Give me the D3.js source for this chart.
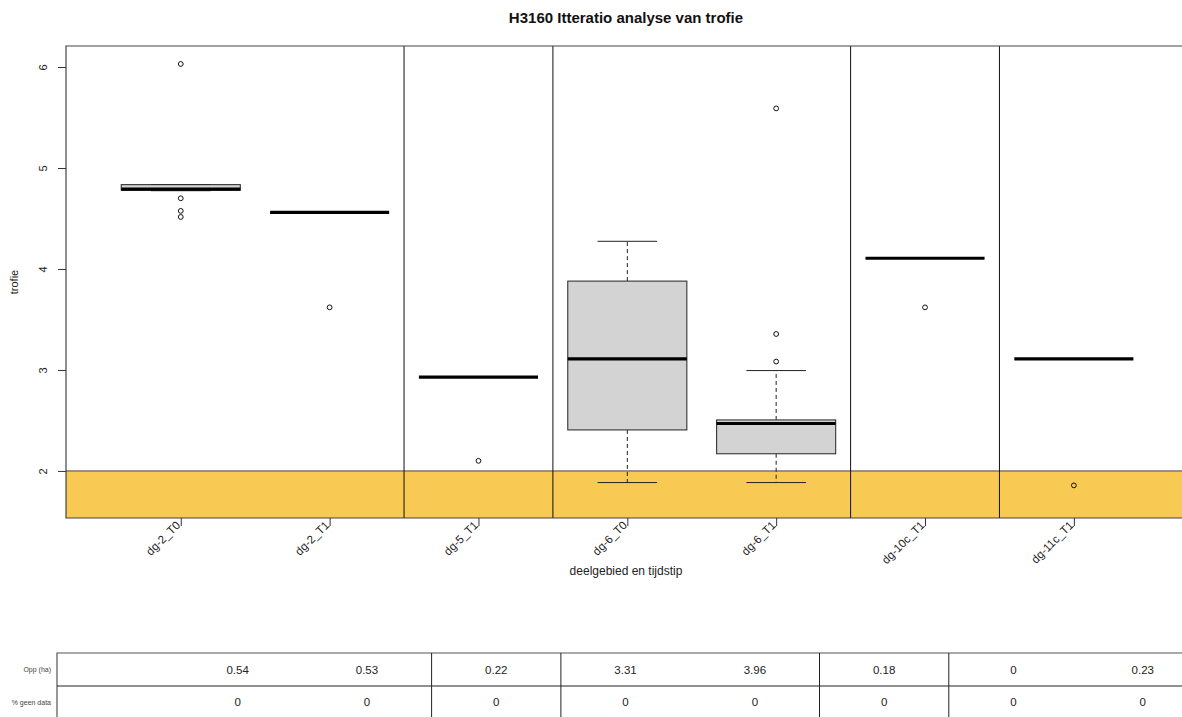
<!DOCTYPE html>
<html>
<head>
<meta charset="utf-8">
<script src="https://cdn.jsdelivr.net/npm/d3@7"></script>
<style>
  body { margin: 0; background: #fff; }
  svg { display: block; font-family: "Liberation Sans", Arial, sans-serif; }
</style>
</head>
<body>
<svg id="chart" width="1182" height="717"></svg>
<script>
// Groups (deelgebied + tijdstip) and their boxplot statistics
const categories = ["dg-2_T0", "dg-2_T1", "dg-5_T1", "dg-6_T0", "dg-6_T1", "dg-10c_T1", "dg-11c_T1"];
const whiskerLow  = [4.775, 4.56, 2.93, 1.885, 1.885, 4.106, 3.11];
const quartile1   = [4.78,  4.56, 2.93, 2.406, 2.17,  4.106, 3.11];
const medians     = [4.79,  4.56, 2.93, 3.11,  2.47,  4.106, 3.11];
const quartile3   = [4.835, 4.56, 2.93, 3.88,  2.505, 4.106, 3.11];
const whiskerHigh = [4.835, 4.56, 2.93, 4.274, 2.994, 4.106, 3.11];
const outliers    = [[6.03, 4.70, 4.575, 4.515], [3.62], [2.10], [], [3.356, 3.083, 5.59], [3.62], [1.857]];

// Boundaries between deelgebieden (after group index)
const separatorsAfter = [2, 3, 5, 6];

// Threshold band below trofie 2
const bandTop = 2;

const yTicks = [2, 3, 4, 5, 6];

// Table under the chart
const tableRowLabels = ["Opp (ha)", "% geen data"];
const tableOpp   = ["0.54", "0.53", "0.22", "3.31", "3.96", "0.18", "0", "0.23"];
const tableGeen  = ["0", "0", "0", "0", "0", "0", "0", "0"];
const tableSeparatorsAfter = [2, 3, 5, 6];

const svg = d3.select("#chart");

const plot = { left: 66, top: 46, right: 1187, bottom: 518 };
const x = d3.scaleLinear().domain([0.229, 7.76]).range([plot.left, plot.right]);
const y = d3.scaleLinear().domain([1.534, 6.208]).range([plot.bottom, plot.top]);
const boxW = (x(2) - x(1)) * 0.8;

// Title
svg.append("text")
  .attr("x", 626).attr("y", 23)
  .attr("text-anchor", "middle")
  .attr("font-weight", "bold")
  .attr("font-size", 15)
  .attr("fill", "#111")
  .text("H3160 Itteratio analyse van trofie");

// Yellow band
svg.append("rect")
  .attr("x", plot.left).attr("y", y(bandTop))
  .attr("width", plot.right - plot.left)
  .attr("height", plot.bottom - y(bandTop))
  .attr("fill", "#F8C953");
svg.append("line")
  .attr("x1", plot.left).attr("x2", plot.right)
  .attr("y1", y(bandTop)).attr("y2", y(bandTop))
  .attr("stroke", "#444").attr("stroke-width", 1);

// Group separators
svg.selectAll("line.sep").data(separatorsAfter).join("line")
  .attr("class", "sep")
  .attr("x1", d => x(d + 0.5)).attr("x2", d => x(d + 0.5))
  .attr("y1", plot.top).attr("y2", plot.bottom)
  .attr("stroke", "#111").attr("stroke-width", 1);

// Boxplots
const groups = svg.selectAll("g.box").data(categories.map((c, i) => ({
  c, i, pos: i + 1,
  lo: whiskerLow[i], q1: quartile1[i], med: medians[i], q3: quartile3[i], hi: whiskerHigh[i],
  out: outliers[i]
}))).join("g").attr("class", "box");

groups.each(function(d) {
  const g = d3.select(this);
  const cx = x(d.pos);
  const flat = d.q1 === d.q3;
  if (!flat) {
    // whiskers
    g.append("line").attr("x1", cx).attr("x2", cx).attr("y1", y(d.q3)).attr("y2", y(d.hi))
      .attr("stroke", "#222").attr("stroke-dasharray", "4,3");
    g.append("line").attr("x1", cx).attr("x2", cx).attr("y1", y(d.q1)).attr("y2", y(d.lo))
      .attr("stroke", "#222").attr("stroke-dasharray", "4,3");
    g.append("line").attr("x1", cx - boxW / 4).attr("x2", cx + boxW / 4)
      .attr("y1", y(d.hi)).attr("y2", y(d.hi)).attr("stroke", "#222");
    g.append("line").attr("x1", cx - boxW / 4).attr("x2", cx + boxW / 4)
      .attr("y1", y(d.lo)).attr("y2", y(d.lo)).attr("stroke", "#222");
    g.append("rect")
      .attr("x", cx - boxW / 2).attr("width", boxW)
      .attr("y", y(d.q3)).attr("height", y(d.q1) - y(d.q3))
      .attr("fill", "#D3D3D3").attr("stroke", "#222").attr("stroke-width", 1);
  }
  g.append("line")
    .attr("x1", cx - boxW / 2).attr("x2", cx + boxW / 2)
    .attr("y1", y(d.med)).attr("y2", y(d.med))
    .attr("stroke", "#000").attr("stroke-width", 3.2);
  g.selectAll("circle").data(d.out).join("circle")
    .attr("cx", cx).attr("cy", v => y(v)).attr("r", 2.4)
    .attr("fill", "none").attr("stroke", "#111").attr("stroke-width", 1);
});

// Plot frame (left, top, bottom)
svg.append("path")
  .attr("d", `M${plot.right},${plot.top}H${plot.left}V${plot.bottom}H${plot.right}`)
  .attr("fill", "none").attr("stroke", "#444").attr("stroke-width", 1.2);

// Y axis
const yAxis = svg.append("g")
  .attr("transform", `translate(${plot.left},0)`)
  .call(d3.axisLeft(y).tickValues(yTicks).tickSize(8).tickFormat(d3.format("d")));
yAxis.select(".domain").remove();
yAxis.selectAll(".tick line").attr("stroke", "#333");
yAxis.selectAll(".tick text")
  .attr("transform", "rotate(-90)")
  .attr("x", 0).attr("y", -19).attr("dy", 0)
  .attr("text-anchor", "middle")
  .attr("font-size", 11).attr("fill", "#222")
  .attr("font-family", "Liberation Sans, Arial, sans-serif");

svg.append("text")
  .attr("transform", `translate(18,282) rotate(-90)`)
  .attr("text-anchor", "middle")
  .attr("font-size", 11).attr("fill", "#222")
  .text("trofie");

// X axis
const xAxis = svg.append("g")
  .attr("transform", `translate(0,${plot.bottom})`)
  .call(d3.axisBottom(x).tickValues(d3.range(1, categories.length + 1)).tickSize(8)
    .tickFormat(d => categories[d - 1]));
xAxis.select(".domain").remove();
xAxis.selectAll(".tick line").attr("stroke", "#333");
xAxis.selectAll(".tick text")
  .attr("transform", "translate(-3,5) rotate(-45)")
  .attr("x", 0).attr("y", 0).attr("dy", "0.35em")
  .attr("text-anchor", "end")
  .attr("font-size", 11.5).attr("fill", "#222")
  .attr("font-family", "Liberation Sans, Arial, sans-serif");

svg.append("text")
  .attr("x", 626).attr("y", 575)
  .attr("text-anchor", "middle")
  .attr("font-size", 12).attr("fill", "#222")
  .text("deelgebied en tijdstip");

// Table
const tbl = { left: 57, top: 653, mid: 686, bottom: 719, colStart: 173, colW: 129.3 };
const col = i => tbl.colStart + tbl.colW * (i + 0.5);
const tg = svg.append("g");
tg.append("path")
  .attr("d", `M1190,${tbl.top}H${tbl.left}V${tbl.bottom}`)
  .attr("fill", "none").attr("stroke", "#555").attr("stroke-width", 1.2);
tg.append("line").attr("x1", tbl.left).attr("x2", 1190)
  .attr("y1", tbl.mid).attr("y2", tbl.mid).attr("stroke", "#222").attr("stroke-width", 1.2);
tg.selectAll("line.tsep").data(tableSeparatorsAfter).join("line")
  .attr("class", "tsep")
  .attr("x1", d => tbl.colStart + tbl.colW * d).attr("x2", d => tbl.colStart + tbl.colW * d)
  .attr("y1", tbl.top).attr("y2", tbl.bottom)
  .attr("stroke", "#222").attr("stroke-width", 1);

tg.selectAll("text.rl").data(tableRowLabels).join("text")
  .attr("class", "rl")
  .attr("x", 51).attr("y", (d, i) => i === 0 ? (tbl.top + tbl.mid) / 2 : (tbl.mid + tbl.bottom) / 2)
  .attr("dy", "0.35em").attr("text-anchor", "end")
  .attr("font-size", 7).attr("fill", "#444")
  .text(d => d);

[tableOpp, tableGeen].forEach((row, r) => {
  const cy = r === 0 ? (tbl.top + tbl.mid) / 2 : (tbl.mid + tbl.bottom) / 2 - 1;
  tg.selectAll(`text.r${r}`).data(row).join("text")
    .attr("class", `r${r}`)
    .attr("x", (d, i) => col(i)).attr("y", cy)
    .attr("dy", "0.35em").attr("text-anchor", "middle")
    .attr("font-size", 11.5).attr("fill", "#222")
    .text(d => d);
});
</script>
</body>
</html>
